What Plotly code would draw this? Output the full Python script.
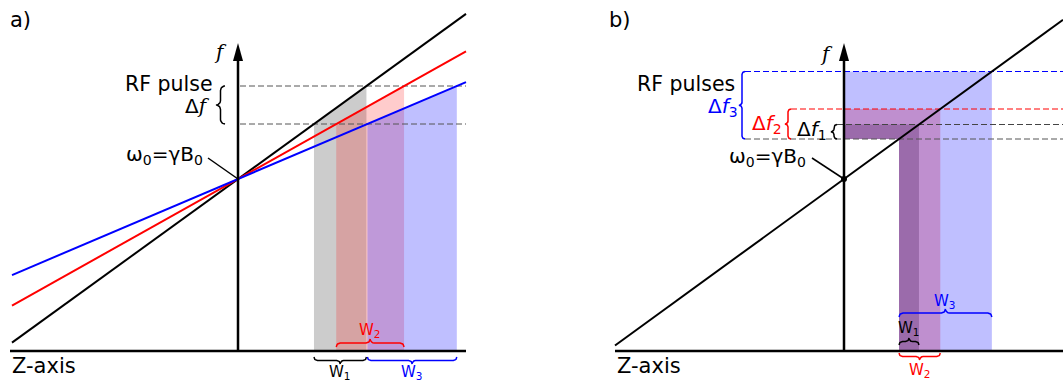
import numpy as np
import plotly.graph_objects as go

# ---------------- data ----------------
# Panel a: three gradient strengths, one RF band
grad_slopes_a = [0.724, 0.56, 0.425]          # df/dz for black, red, blue gradient
grad_colors = ["black", "red", "blue"]
fill_colors_a = ["rgba(0,0,0,0.2)", "rgba(255,0,0,0.2)", "rgba(0,0,255,0.25)"]
f0 = 172                                       # omega0 = gamma*B0 at isocentre
band_a = [227, 265]                            # RF pulse band (f_lo, f_hi)
z_span_a = [-226, 228]                         # extent of gradient lines
axis_z_a = [-228, 228]                         # extent of Z axis

# Panel b: one gradient, three RF bandwidths
slope_b = 0.727
f_lo_b = 212
f_hi_b = [226.5, 242, 279.5]                   # upper edge of Δf1, Δf2, Δf3
band_colors_b = ["black", "red", "blue"]
fill_colors_b = ["rgba(0,0,0,0.25)", "rgba(255,0,0,0.25)", "rgba(0,0,255,0.25)"]
dash_colors_b = ["#444", "red", "blue"]
z_span_b = [-229, 219]
axis_z_b = [-229, 219]

f_axis_top = 308
width_labels = ["W<sub>1</sub>", "W<sub>2</sub>", "W<sub>3</sub>"]
df_labels_b = ["Δ<i>f</i><sub>1</sub>", "Δ<i>f</i><sub>2</sub>", "Δ<i>f</i><sub>3</sub>"]

FONT = "DejaVu Sans"
SERIF = "DejaVu Serif"

fig = go.Figure()


def add_line(xs, ys, xa, color="black", width=2, dash=None):
    fig.add_trace(go.Scatter(x=list(xs), y=list(ys), mode="lines", xaxis=xa, yaxis="y",
                             line=dict(color=color, width=width, dash=dash),
                             hoverinfo="skip", showlegend=False))


def add_poly(xs, ys, xa, fillcolor):
    fig.add_trace(go.Scatter(x=list(xs), y=list(ys), mode="lines", xaxis=xa, yaxis="y",
                             fill="toself", fillcolor=fillcolor, line=dict(width=0),
                             hoverinfo="skip", showlegend=False))


def brace(a, b, base, q, sign, vertical=False, n=10):
    m = (a + b) / 2
    us, vs = [], []

    def arc(cu, cv, t0, t1):
        t = np.linspace(t0, t1, n)
        us.extend(cu + q * np.cos(t))
        vs.extend(cv + q * np.sin(t))

    arc(a + q, 0, np.pi, np.pi / 2)
    arc(m - q, 2 * q, -np.pi / 2, 0)
    arc(m + q, 2 * q, np.pi, 1.5 * np.pi)
    arc(b - q, 0, np.pi / 2, 0)
    us = np.array(us)
    vs = base + sign * np.array(vs)
    return (vs, us) if vertical else (us, vs)


annotations = []


def label(text, x, y, xa, color="black", size=19, xanchor="center", family=FONT):
    annotations.append(dict(text=text, x=x, y=y, xref=xa, yref="y", showarrow=False,
                            xanchor=xanchor, yanchor="middle",
                            font=dict(family=family, size=size, color=color)))


def italic_f(extra=""):
    return '<span style="font-family:\'DejaVu Serif\'"><i>f</i>%s</span>' % extra


# ---------------- panel a ----------------
xa = "x"
zlo_a = [(band_a[0] - f0) / s for s in grad_slopes_a]
zhi_a = [(band_a[1] - f0) / s for s in grad_slopes_a]
for zl, zh, fc in zip(zlo_a, zhi_a, fill_colors_a):
    add_poly([zl, zl, zh, zh], [0, band_a[0], band_a[1], 0], xa, fc)
for fb in band_a:
    add_line([2, axis_z_a[1]], [fb, fb], xa, color="#555", width=1, dash="6px,3px")
for s, c in zip(grad_slopes_a, grad_colors):
    add_line(z_span_a, [f0 + s * z for z in z_span_a], xa, color=c, width=2)

# braces a
bx, by = brace(zlo_a[1], zhi_a[1], 4, 4, +1)
add_line(bx, by, xa, color="red", width=1.5)
label(width_labels[1], (zlo_a[1] + zhi_a[1]) / 2, 21, xa, color="red", size=15)
bx, by = brace(zlo_a[0], zhi_a[0], -6, 3.5, -1)
add_line(bx, by, xa, color="black", width=1.5)
label(width_labels[0], (zlo_a[0] + zhi_a[0]) / 2, -21, xa, size=15)
bx, by = brace(zlo_a[2], zhi_a[2], -6, 3.5, -1)
add_line(bx, by, xa, color="blue", width=1.5)
label(width_labels[2], (zlo_a[2] + zhi_a[2]) / 2, -21, xa, color="blue", size=15)
bx, by = brace(band_a[0], band_a[1], -13, 4.5, -1, vertical=True)
add_line(bx, by, xa, color="black", width=1.5)

add_line([-30, 0], [193, f0], xa, width=1.5)
label("RF pulse", -23, 267, xa, xanchor="right", size=20.5)
label("Δ" + italic_f(), -26, 245, xa, xanchor="right", size=20)
label("ω<sub>0</sub>=γB<sub>0</sub>", -33, 196, xa, xanchor="right", size=20)
label(italic_f(), -18, 299, xa, family=SERIF, size=20)
label("a)", -218, 331, xa, size=21)
label("Z-axis", axis_z_a[0], -15, xa, xanchor="left", size=21)

# axes a
add_line(axis_z_a, [0, 0], xa, width=2.5)
add_line([0, 0], [0, f_axis_top - 16], xa, width=2.5)
add_poly([-5, 0, 5, -5], [f_axis_top - 18, f_axis_top, f_axis_top - 18, f_axis_top - 18], xa, "black")

# ---------------- panel b ----------------
xb = "x2"
zlo_b = (f_lo_b - f0) / slope_b
zhi_b = [(fh - f0) / slope_b for fh in f_hi_b]
for zh, fh, fc in zip(zhi_b, f_hi_b, fill_colors_b):
    add_poly([0, 0, zh, zh, zlo_b, zlo_b], [f_lo_b, fh, fh, 0, 0, f_lo_b], xb, fc)

brace_z_b = [-7, -53, -99]
add_line([brace_z_b[2], axis_z_b[1]], [f_lo_b, f_lo_b], xb, color="#555", width=1, dash="6px,3px")
for fh, dc, bz in zip(f_hi_b, dash_colors_b, brace_z_b):
    add_line([bz, axis_z_b[1]], [fh, fh], xb, color=dc, width=1, dash="6px,3px")

add_line(z_span_b, [f0 + slope_b * z for z in z_span_b], xb, width=2)

# vertical braces b
for fh, c, bz, lab, lz, ly in zip(f_hi_b, band_colors_b, brace_z_b, df_labels_b,
                                   [-15, -60, -104], [221, 227, 244]):
    bx, by = brace(f_lo_b, fh, bz, 3, -1, vertical=True)
    add_line(bx, by, xb, color=c, width=1.5)
    label(lab, lz, ly, xb, color=c, xanchor="right", size=20)

# width braces b
bx, by = brace(zlo_b, zhi_b[2], 34, 4, +1)
add_line(bx, by, xb, color="blue", width=1.5)
label(width_labels[2], (zlo_b + zhi_b[2]) / 2, 50, xb, color="blue", size=15)
bx, by = brace(zlo_b, zhi_b[0], 6, 3.5, +1)
add_line(bx, by, xb, color="black", width=1.5)
label(width_labels[0], (zlo_b + zhi_b[0]) / 2, 23, xb, size=15)
bx, by = brace(zlo_b, zhi_b[1], -2, 3.5, -1)
add_line(bx, by, xb, color="red", width=1.5)
label(width_labels[1], (zlo_b + zhi_b[1]) / 2, -19, xb, color="red", size=15)

add_line([-32, 0], [193, f0], xb, width=1.5)
label("RF pulses", -107, 267, xb, xanchor="right", size=20.5)
label("ω<sub>0</sub>=γB<sub>0</sub>", -36, 194, xb, xanchor="right", size=20)
label(italic_f(), -18, 297, xb, family=SERIF, size=20)
label("b)", -224, 331, xb, size=21)
label("Z-axis", axis_z_b[0], -15, xb, xanchor="left", size=21)

add_line(axis_z_b, [0, 0], xb, width=2.5)
add_line([0, 0], [0, f_axis_top - 16], xb, width=2.5)
add_poly([-5, 0, 5, -5], [f_axis_top - 18, f_axis_top, f_axis_top - 18, f_axis_top - 18], xb, "black")
fig.add_trace(go.Scatter(x=[0], y=[f0], mode="markers", xaxis=xb, yaxis="y",
                         marker=dict(color="black", size=6), hoverinfo="skip", showlegend=False))

W, H = 1063, 381
split = 531.5
fig.update_layout(
    width=W, height=H, autosize=False,
    margin=dict(l=0, r=0, t=0, b=0, pad=0),
    paper_bgcolor="white", plot_bgcolor="white",
    showlegend=False, hovermode=False,
    annotations=annotations,
    xaxis=dict(domain=[0, split / W], range=[-238, split - 238], visible=False, fixedrange=True),
    xaxis2=dict(domain=[split / W, 1], range=[split - 844, W - 844], visible=False,
                anchor="y", fixedrange=True),
    yaxis=dict(domain=[0, 1], range=[351 - H, 351], visible=False, fixedrange=True),
)

fig.write_html("out.html", config=dict(displayModeBar=False))
